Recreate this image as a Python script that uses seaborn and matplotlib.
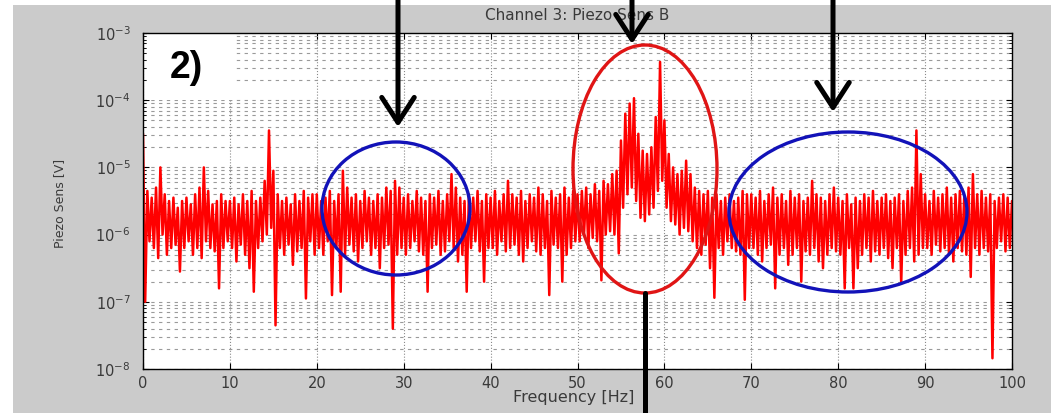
import numpy as np
import pandas as pd
import seaborn as sns
import matplotlib
matplotlib.use("Agg")
import matplotlib.pyplot as plt
from matplotlib.patches import Ellipse, Rectangle, FancyArrowPatch, ArrowStyle
from matplotlib.lines import Line2D
from matplotlib.ticker import LogLocator, NullFormatter, FixedLocator

# Spectrum of channel 3, in 0.5 Hz bins (0 .. 100 Hz).
# For each bin: log10 of the upper excursion (at the bin start) and of the
# lower excursion (a quarter bin later).
bin_start_hz = [0.5 * i for i in range(201)]

log_upper = [
    # 0 - 9.5 Hz
    -4.50, -5.35, -5.45, -5.30, -5.00, -5.40, -5.50, -5.45, -5.60, -5.50,
    -5.45, -5.55, -5.40, -5.30, -5.00, -5.35, -5.55, -5.50, -5.40, -5.50,
    # 10 - 19.5 Hz
    -5.50, -5.45, -5.55, -5.40, -5.50, -5.35, -5.50, -5.45, -5.20, -4.45,
    -5.05, -5.40, -5.50, -5.45, -5.55, -5.40, -5.50, -5.35, -5.45, -5.40,
    # 20 - 29.5 Hz
    -5.40, -5.50, -5.45, -5.35, -5.50, -5.40, -5.05, -5.30, -5.45, -5.40,
    -5.50, -5.35, -5.45, -5.50, -5.40, -5.45, -5.30, -5.35, -5.20, -5.30,
    # 30 - 39.5 Hz
    -5.45, -5.40, -5.50, -5.35, -5.45, -5.50, -5.40, -5.45, -5.35, -5.50,
    -5.40, -5.10, -5.30, -5.45, -5.50, -5.40, -5.45, -5.35, -5.50, -5.40,
    # 40 - 49.5 Hz
    -5.45, -5.35, -5.50, -5.40, -5.20, -5.40, -5.45, -5.35, -5.50, -5.40,
    -5.45, -5.30, -5.40, -5.50, -5.35, -5.45, -5.40, -5.30, -5.45, -5.35,
    # 50 - 59.5 Hz
    -5.40, -5.35, -5.30, -5.40, -5.25, -5.35, -5.20, -5.25, -5.10, -5.05,
    -4.60, -4.20, -4.05, -3.97, -4.50, -4.75, -4.80, -4.70, -4.25, -3.43,
    # 60 - 69.5 Hz
    -4.30, -4.80, -5.00, -5.10, -5.05, -4.90, -5.10, -5.30, -5.35, -5.40,
    -5.35, -5.45, -5.40, -5.50, -5.45, -5.40, -5.50, -5.45, -5.35, -5.40,
    # 70 - 79.5 Hz
    -5.40, -5.45, -5.35, -5.50, -5.40, -5.30, -5.45, -5.40, -5.50, -5.35,
    -5.45, -5.40, -5.50, -5.45, -5.20, -5.40, -5.45, -5.50, -5.40, -5.30,
    # 80 - 89.5 Hz
    -5.45, -5.50, -5.40, -5.55, -5.45, -5.50, -5.40, -5.45, -5.35, -5.50,
    -5.45, -5.40, -5.50, -5.45, -5.40, -5.50, -5.35, -5.30, -4.45, -5.10,
    # 90 - 100 Hz
    -5.40, -5.50, -5.35, -5.45, -5.40, -5.30, -5.45, -5.40, -5.35, -5.45,
    -5.30, -5.10, -5.40, -5.35, -5.45, -5.40, -5.50, -5.45, -5.40, -5.45,
    -5.50,
]

log_lower = [
    # 0 - 9.5 Hz
    -7.00, -6.10, -6.20, -6.35, -6.00, -6.30, -6.20, -6.15, -6.55, -6.20,
    -6.10, -6.30, -6.20, -6.35, -6.10, -6.20, -6.25, -6.80, -6.20, -6.10,
    # 10 - 19.5 Hz
    -6.20, -6.40, -6.15, -6.30, -6.50, -6.85, -6.20, -6.10, -6.00, -5.90,
    -7.35, -6.20, -6.30, -6.15, -6.45, -6.25, -6.20, -6.95, -6.10, -6.30,
    # 20 - 29.5 Hz
    -6.20, -6.30, -6.10, -6.90, -6.20, -6.85, -6.30, -6.15, -6.25, -6.40,
    -6.20, -6.10, -6.30, -6.20, -6.50, -6.20, -6.15, -7.40, -6.30, -6.20,
    # 30 - 39.5 Hz
    -6.30, -6.20, -6.10, -6.25, -6.30, -6.85, -6.20, -6.15, -6.30, -6.25,
    -6.10, -6.20, -6.40, -6.30, -6.85, -6.20, -6.10, -6.25, -6.70, -6.20,
    # 40 - 49.5 Hz
    -6.20, -6.30, -6.10, -6.25, -6.20, -6.15, -6.30, -6.40, -6.20, -6.10,
    -6.25, -6.30, -6.20, -6.90, -6.15, -6.20, -6.70, -6.30, -6.20, -6.10,
    # 50 - 59.5 Hz
    -6.10, -6.00, -6.20, -6.05, -6.10, -6.68, -6.00, -5.95, -6.00, -6.28,
    -5.60, -5.40, -5.30, -5.50, -5.75, -5.80, -5.70, -5.60, -5.35, -5.20,
    # 60 - 69.5 Hz
    -5.60, -5.80, -5.85, -6.00, -5.90, -5.95, -6.10, -6.20, -6.30, -6.15,
    -6.50, -6.94, -6.20, -6.30, -6.10, -6.20, -6.25, -6.30, -6.97, -6.20,
    # 70 - 79.5 Hz
    -6.20, -6.30, -6.40, -6.20, -6.15, -6.80, -6.30, -6.20, -6.45, -6.30,
    -6.20, -6.70, -6.25, -6.30, -6.20, -6.40, -6.50, -6.30, -6.20, -6.25,
    # 80 - 89.5 Hz
    -6.30, -6.80, -6.20, -6.80, -6.50, -6.30, -6.20, -6.40, -6.25, -6.30,
    -6.20, -6.35, -6.50, -6.20, -6.73, -6.30, -6.20, -6.40, -6.30, -6.20,
    # 90 - 100 Hz
    -6.20, -6.30, -6.15, -6.25, -6.20, -6.30, -6.40, -6.20, -6.25, -6.30,
    -6.63, -6.20, -6.30, -6.20, -6.25, -7.84, -6.20, -6.10, -6.25, -6.20,
    -6.20,
]

x_ticks = [0, 10, 20, 30, 40, 50, 60, 70, 80, 90, 100]
title_text = "Channel 3: Piezo Sens B"
x_label = "Frequency [Hz]"
y_label = "Piezo Sens [V]"
panel_tag = "2)"

# Interleave upper and lower excursions into one continuous trace
freq = []
amp = []
for f, hi, lo in zip(bin_start_hz, log_upper, log_lower):
    freq += [f, f + 0.25]
    amp += [10.0 ** hi, 10.0 ** lo]
trace = pd.DataFrame({"freq": freq, "amp": amp})

sns.set_style("ticks")
W, H = 1051, 413
fig = plt.figure(figsize=(W / 100, H / 100), dpi=100, facecolor="#cbcbcb")


def fx(px):
    return px / W


def fy(py):
    return 1 - py / H


# white margins along the top and left edges
fig.add_artist(Rectangle((0, fy(5)), 1, 1 - fy(5), transform=fig.transFigure,
                         facecolor="white", edgecolor="none", zorder=-1))
fig.add_artist(Rectangle((0, 0), fx(13), 1, transform=fig.transFigure,
                         facecolor="white", edgecolor="none", zorder=-1))

ax = fig.add_axes([fx(143), fy(369), fx(1012) - fx(143), fy(33) - fy(369)])
ax.set_facecolor("white")

sns.lineplot(data=trace, x="freq", y="amp", ax=ax, color="#ff0000",
             linewidth=1.8, estimator=None, sort=False, legend=False)

ax.set_yscale("log")
ax.set_xlim(0, 100)
ax.set_ylim(1e-8, 1e-3)
ax.xaxis.set_major_locator(FixedLocator(x_ticks))
ax.set_xticklabels([str(t) for t in x_ticks])
ax.yaxis.set_major_locator(LogLocator(base=10, numticks=10))
ax.yaxis.set_minor_locator(LogLocator(base=10, subs=np.arange(2, 10), numticks=20))
ax.yaxis.set_minor_formatter(NullFormatter())

# MATLAB-like box with inward ticks on all sides
for s in ax.spines.values():
    s.set_color("black")
    s.set_linewidth(1.0)
    s.set_visible(True)
ax.tick_params(which="major", direction="in", length=4, width=0.8,
               top=True, right=True, colors="black",
               labelcolor="#3a3a3a", labelsize=10.5)
ax.tick_params(axis="x", which="major", pad=5)
ax.tick_params(axis="y", which="major", pad=9)
ax.tick_params(which="minor", direction="in", length=2.5, width=0.6,
               left=True, right=True, colors="black")

# dotted grid
ax.xaxis.grid(True, which="major", linestyle=":", color="#8a8a8a", linewidth=0.8)
ax.yaxis.grid(True, which="both", linestyle=(0, (3, 4)), color="#9a9a9a",
              linewidth=0.8)
ax.set_axisbelow(True)

ax.set_title(title_text, color="#3a3a3a", fontsize=11, pad=9)
ax.set_xlabel(x_label, color="#3a3a3a", fontsize=11.5)
ax.set_ylabel(y_label, color="#3a3a3a", fontsize=9)
ax.xaxis.set_label_coords(0.496, -0.062)
ax.yaxis.set_label_coords(-0.089, 0.494)

# panel tag on a white patch in the upper-left corner
ax.add_patch(Rectangle((0.005, 0.80), 0.099, 0.2, transform=ax.transAxes,
                       facecolor="white", edgecolor="none", zorder=2.5))
ax.text((186 - 143) / (1012 - 143), (369 - 68) / (369 - 33), panel_tag,
        transform=ax.transAxes, ha="center", va="center",
        fontsize=27, fontweight="bold", family="Liberation Sans",
        color="black", zorder=3)

# highlighted regions
regions = [
    ((396, 208.5), 148, 133, "#1212b8"),
    ((645, 169), 144, 248, "#e01515"),
    ((848, 212), 238, 160, "#1212b8"),
]
for (cx, cy), w, h, col in regions:
    fig.add_artist(Ellipse((fx(cx), fy(cy)), w / W, h / H,
                           transform=fig.transFigure, fill=False,
                           edgecolor=col, linewidth=2.4, zorder=5))

# pointers
head = ArrowStyle("->", head_length=1.0, head_width=0.65)
for x0, y_tip in [(398, 127), (632, 44), (833, 112)]:
    fig.add_artist(FancyArrowPatch((fx(x0), fy(-5)), (fx(x0), fy(y_tip)),
                                   transform=fig.transFigure, arrowstyle=head,
                                   mutation_scale=18, linewidth=3.6,
                                   color="black", zorder=6,
                                   shrinkA=0, shrinkB=0))
fig.add_artist(Line2D([fx(645), fx(645)], [fy(293), fy(420)],
                      transform=fig.transFigure, color="black",
                      linewidth=3.6, zorder=6))

fig.savefig("out.png", dpi=100, facecolor=fig.get_facecolor())
